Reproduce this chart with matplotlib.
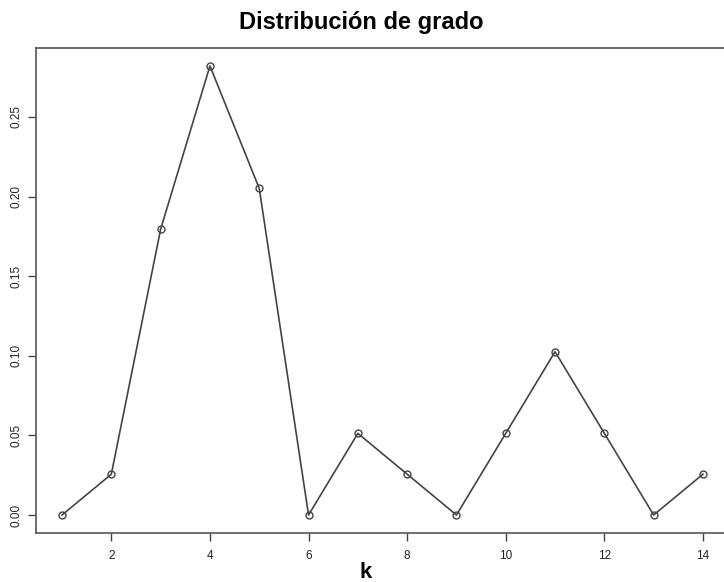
import matplotlib
matplotlib.use("Agg")
import matplotlib.pyplot as plt

# degree distribution, 39 nodes
k = [1, 2, 3, 4, 5, 6, 7, 8, 9, 10, 11, 12, 13, 14]
pk = [0.0, 0.02564, 0.17949, 0.28205, 0.20513, 0.0, 0.05128, 0.02564,
      0.0, 0.05128, 0.10256, 0.05128, 0.0, 0.02564]
xticks = [2, 4, 6, 8, 10, 12, 14]
yticks = [0.00, 0.05, 0.10, 0.15, 0.20, 0.25]

W, H = 724, 582
fig = plt.figure(figsize=(W / 100, H / 100), dpi=100)
ax = fig.add_axes([36.4 / W, 1 - 533 / H, 692.2 / W, 485 / H])

ax.plot(k, pk, color="#444444", lw=1.2, marker="o", ms=5,
        mfc="none", mec="#444444", mew=1.0)
ax.set_xlim(0.48, 14.52)
ax.set_ylim(-0.0113, 0.2933)

lab = dict(fontsize=8.5, color="#222222", family="Liberation Sans")
ax.set_xticks(xticks)
ax.set_xticklabels([str(t) for t in xticks], **lab)
ax.set_yticks(yticks)
ax.set_yticklabels([f"{t:.2f}" for t in yticks], rotation=90, va="center", **lab)
ax.tick_params(direction="out", length=6, width=1, color="#444444", pad=6)
ax.tick_params(axis="y", pad=4)
for s in ax.spines.values():
    s.set_color("#555555")
    s.set_linewidth(1.2)

fig.text(361 / W, 1 - 22 / H, "Distribución de grado", ha="center", va="center",
         fontsize=17, fontweight="bold", family="Liberation Sans")
fig.text(366 / W, 1 - 572 / H, "k", ha="center", va="center",
         fontsize=16, fontweight="bold", family="Liberation Sans")

fig.savefig("out.png", dpi=100)
